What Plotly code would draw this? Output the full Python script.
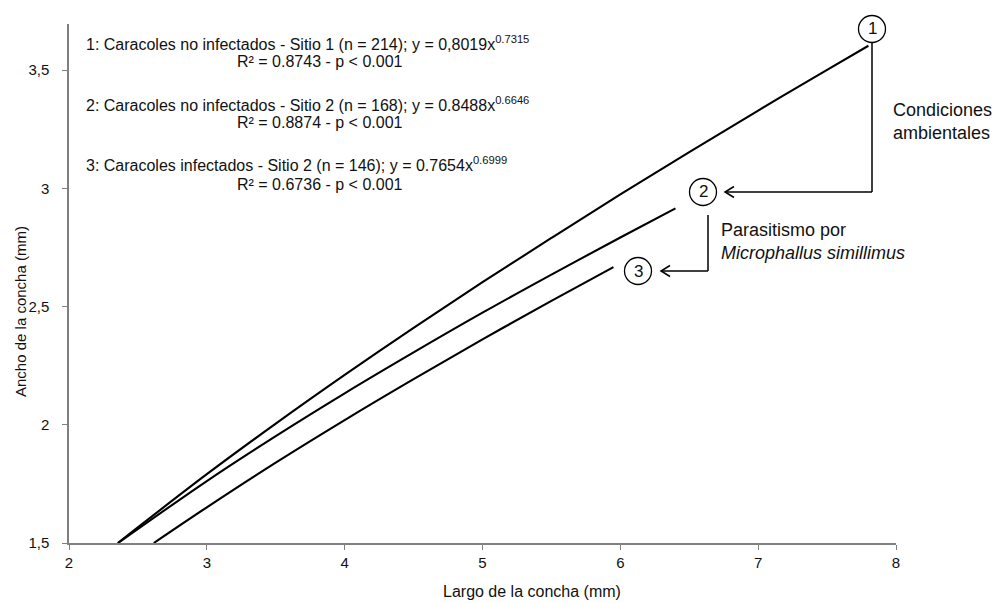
import plotly.graph_objects as go

# Curve values
x1 = [2.354, 3.0, 3.5, 4.0, 4.5, 5.0, 5.5, 6.0, 6.5, 7.0, 7.5, 7.8]
y1 = [1.500, 1.791, 2.005, 2.211, 2.410, 2.603, 2.790, 2.974, 3.153, 3.329, 3.501, 3.603]
x2 = [2.356, 3.0, 3.5, 4.0, 4.5, 5.0, 5.5, 6.0, 6.4]
y2 = [1.500, 1.762, 1.952, 2.133, 2.306, 2.474, 2.635, 2.792, 2.915]
x3 = [2.615, 3.0, 3.5, 4.0, 4.5, 5.0, 5.5, 5.95]
y3 = [1.500, 1.651, 1.840, 2.020, 2.193, 2.361, 2.524, 2.667]

x_ticks = [2, 3, 4, 5, 6, 7, 8]
x_labels = ["2", "3", "4", "5", "6", "7", "8"]
y_ticks = [1.5, 2, 2.5, 3, 3.5]
y_labels = ["1,5", "2", "2,5", "3", "3,5"]

eq_lines = [
    "1: Caracoles no infectados - Sitio 1 (n = 214); y = 0,8019x<sup>0.7315</sup>",
    "2: Caracoles no infectados - Sitio 2 (n = 168); y = 0.8488x<sup>0.6646</sup>",
    "3: Caracoles infectados - Sitio 2 (n = 146); y = 0.7654x<sup>0.6999</sup>",
]
r2_lines = [
    "R² = 0.8743 - p < 0.001",
    "R² = 0.8874 - p < 0.001",
    "R² = 0.6736 - p < 0.001",
]

FONT = "Liberation Sans, Arial, sans-serif"
W, H = 995, 603
ML, MR, MT, MB = 69, 99, 24, 60
PW, PH = W - ML - MR, H - MT - MB


def px(xp):
    return (xp - ML) / PW


def py(yp):
    return (H - MB - yp) / PH


fig = go.Figure()
for xs, ys in [(x1, y1), (x2, y2), (x3, y3)]:
    fig.add_trace(go.Scatter(x=xs, y=ys, mode="lines", line=dict(color="black", width=2.1, shape="spline"),
                             showlegend=False, hoverinfo="skip"))

# equation text lines
for txt, ypix in zip(eq_lines, [41, 102, 162]):
    fig.add_annotation(x=px(84), y=py(ypix), xref="paper", yref="paper", text=txt, showarrow=False,
                       xanchor="left", yanchor="middle", yshift=-2,
                       font=dict(family=FONT, size=16, color="#111"))
for txt, ypix in zip(r2_lines, [61.5, 123, 184]):
    fig.add_annotation(x=px(235), y=py(ypix), xref="paper", yref="paper", text=txt, showarrow=False,
                       xanchor="left", yanchor="middle",
                       font=dict(family=FONT, size=16, color="#111"))

# numbered circles
circles = [("1", 872, 29), ("2", 703, 192), ("3", 638, 271)]
for lab, cx, cy in circles:
    fig.add_shape(type="circle", xref="paper", yref="paper", xsizemode="pixel", ysizemode="pixel",
                  xanchor=px(cx), yanchor=py(cy), x0=-13.5, x1=13.5, y0=-13.5, y1=13.5,
                  line=dict(color="black", width=1.3), fillcolor="white")
    fig.add_annotation(x=px(cx), y=py(cy), xref="paper", yref="paper", text=lab, showarrow=False,
                       xanchor="center", yanchor="middle",
                       font=dict(family=FONT, size=17, color="#111"))

# connector lines (pixel positions)
conn = [
    (872, 43, 872, 192), (872, 192, 725, 192),
    (708, 215, 708, 271), (708, 271, 661, 271),
]
for xa, ya, xb, yb in conn:
    fig.add_shape(type="line", xref="paper", yref="paper", x0=px(xa), y0=py(ya), x1=px(xb), y1=py(yb),
                  line=dict(color="black", width=1.5))
for tx, ty in [(725, 192), (661, 271)]:
    fig.add_shape(type="path", xref="paper", yref="paper", xsizemode="pixel", ysizemode="pixel",
                  xanchor=px(tx), yanchor=py(ty), path="M 9,-5.5 L 0,0 L 9,5.5",
                  line=dict(color="black", width=1.5))

fig.add_annotation(x=px(891), y=py(121), xref="paper", yref="paper", text="Condiciones<br>ambientales",
                   showarrow=False, xanchor="left", yanchor="middle", align="left",
                   font=dict(family=FONT, size=18, color="#111"))
fig.add_annotation(x=px(719), y=py(241.5), xref="paper", yref="paper",
                   text="Parasitismo por<br><i>Microphallus simillimus</i>", showarrow=False,
                   xanchor="left", yanchor="middle", align="left",
                   font=dict(family=FONT, size=18, color="#111"))

# axis titles
fig.add_annotation(x=px(532), y=py(591), xref="paper", yref="paper", text="Largo de la concha (mm)",
                   showarrow=False, xanchor="center", yanchor="middle",
                   font=dict(family=FONT, size=16, color="#111"))
fig.add_annotation(x=px(21), y=py(312), xref="paper", yref="paper", text="Ancho de la concha (mm)",
                   showarrow=False, xanchor="center", yanchor="middle", textangle=-90,
                   font=dict(family=FONT, size=15, color="#111"))

fig.update_layout(
    width=W, height=H, margin=dict(l=ML, r=MR, t=MT, b=MB, autoexpand=False),
    paper_bgcolor="white", plot_bgcolor="white",
    font=dict(family=FONT, size=15, color="#111"),
)
fig.update_xaxes(range=[2, 8], tickvals=x_ticks, ticktext=x_labels, showgrid=False, zeroline=False,
                 showline=True, linecolor="#808080", linewidth=1.5, ticks="outside", ticklen=5,
                 tickcolor="#808080", tickwidth=1.2, ticklabelstandoff=0, automargin=False)
fig.update_yaxes(range=[1.5, 3.695], tickvals=y_ticks, ticktext=y_labels, showgrid=False, zeroline=False,
                 showline=True, linecolor="#808080", linewidth=1.5, ticks="outside", ticklen=5,
                 tickcolor="#808080", tickwidth=1.2, ticklabelstandoff=10, automargin=False)

fig.write_html("out.html", config={"displayModeBar": False},
               post_script="document.body.style.margin='0';document.body.style.overflow='hidden';")
